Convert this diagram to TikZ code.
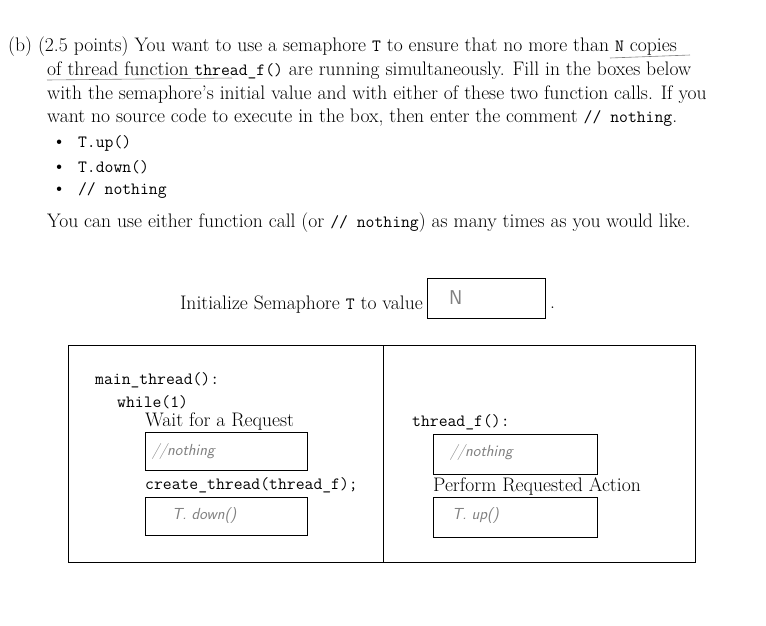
\documentclass[tikz,border=0pt]{standalone}
\usepackage{tikz}
\usetikzlibrary{positioning}
\newcommand{\code}[1]{{\fontsize{17.2}{20}\ttfamily #1}}
\begin{document}
\begin{tikzpicture}[x=1pt,y=-1pt,
    txt/.style={anchor=west,inner sep=0pt,font=\fontsize{19.6}{22}\selectfont},
    ansbox/.style={draw,line width=0.6pt},
    hand/.style={anchor=west,inner sep=0pt,text=gray,font=\fontsize{16}{18}\sffamily\itshape}]
    \useasboundingbox (0,0) rectangle (766,625);

    % question text
    \node [txt] (l1) at (8,47) {(b) (2.5 points) You want to use a semaphore \code{T} to ensure that no more than \code{N} copies};
    \node [txt] (l2) at (47,71) {of thread function \code{thread\_f()} are running simultaneously. Fill in the boxes below};
    \node [txt] (l3) at (47,95) {with the semaphore's initial value and with either of these two function calls. If you};
    \node [txt] (l4) at (47,118) {want no source code to execute in the box, then enter the comment \code{// nothing}.};
    \draw [gray, line width=0.6pt] (610,58) -- (690,55);
    \draw [gray, line width=0.6pt] (47,80) -- (232,78);

    % bullets
    \node [txt] (b1) at (52,143) {\textbullet\hspace{0.6em}\code{T.up()}};
    \node [txt] (b2) at (52,167) {\textbullet\hspace{0.6em}\code{T.down()}};
    \node [txt] (b3) at (52,190) {\textbullet\hspace{0.6em}\code{// nothing}};

    \node [txt] (l5) at (47,223) {You can use either function call (or \code{// nothing}) as many times as you would like.};

    % initial value
    \node [txt, anchor=east] (init) at (423,305) {Initialize Semaphore \code{T} to value};
    \draw [ansbox] (427,278) rectangle (545,318);
    \node [hand, font=\fontsize{20}{22}\sffamily] (nval) at (449,298) {N};
    \node [txt] (dot) at (550,308) {.};

    % code boxes
    \draw [line width=0.8pt] (68,345) rectangle (695,562);
    \draw [line width=0.8pt] (383,345) -- (383,562);

    \node [txt] (main) at (95,380) {\code{main\_thread():}};
    \node [txt] (loop) at (117,402) {\code{while(1)}};
    \node [txt] (wait) at (145,422) {Wait for a Request};
    \draw [ansbox] (145,432) rectangle (307,470);
    \node [hand] (a1) at (152,451) {//nothing};
    \node [txt] (create) at (145,485) {\code{create\_thread(thread\_f);}};
    \draw [ansbox] (145,497) rectangle (307,535);
    \node [hand] (a2) at (172,515) {T. down()};

    \node [txt] (thr) at (412,422) {\code{thread\_f():}};
    \draw [ansbox] (433,434) rectangle (597,474);
    \node [hand] (a3) at (450,452) {//nothing};
    \node [txt] (perf) at (433,486) {Perform Requested Action};
    \draw [ansbox] (433,497) rectangle (597,537);
    \node [hand] (a4) at (452,515) {T. up()};
\end{tikzpicture}
\end{document}
